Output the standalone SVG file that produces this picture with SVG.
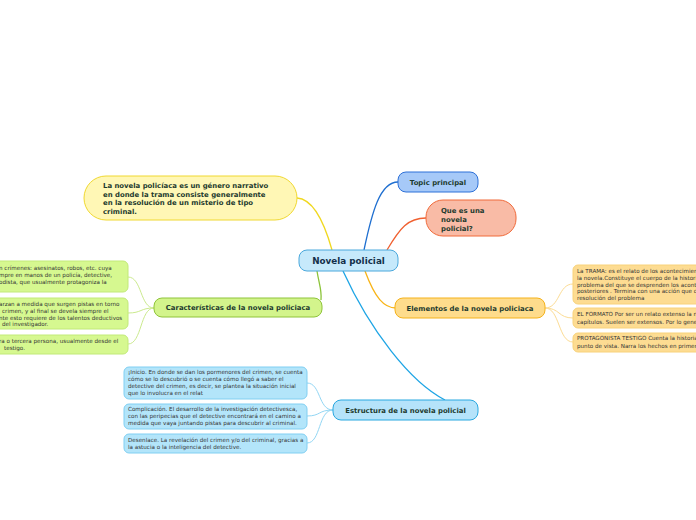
<svg xmlns="http://www.w3.org/2000/svg" width="696" height="520" viewBox="0 0 696 520">
<style>
text{font-family:"DejaVu Sans","Verdana",sans-serif;fill:#1d3a2e}
.m{font-weight:bold;font-size:6.9px}
.c{font-size:5.6px;fill:#333}
.cen{font-weight:bold;font-size:8.8px;fill:#14304a}
.conn path{fill:none}
</style>
<rect width="696" height="520" fill="#ffffff"/>
<g class="conn">
<path d="M364,250 C372,212 380,182 398,182" stroke="#1f6fd0" stroke-width="1.3"/>
<path d="M387,250 C400,228 408,218 426,218" stroke="#f06030" stroke-width="1.3"/>
<path d="M332,250 C325,225 314,199 297,198" stroke="#f0d820" stroke-width="1.3"/>
<path d="M317,271 C319,284 322,290 321,300" stroke="#8cc43a" stroke-width="1.3"/>
<path d="M365,271 C375,298 384,308 396,308" stroke="#f8b418" stroke-width="1.3"/>
<path d="M343,271 C370,330 410,382 445,400" stroke="#1ea5e5" stroke-width="1.3"/>
<g stroke="#fcdc94" stroke-width="1">
<path d="M545,308 C560,308 558,284 573,284"/>
<path d="M545,308 C560,308 558,318 573,318"/>
<path d="M545,308 C560,308 558,342 573,342"/>
</g>
<g stroke="#cbea8e" stroke-width="1">
<path d="M154,308 C140,308 142,277 128,277"/>
<path d="M154,308 C140,308 142,313 128,313"/>
<path d="M154,308 C140,308 142,344 128,344"/>
</g>
<g stroke="#92d6f4" stroke-width="1">
<path d="M333,410 C318,410 321,383 307,383"/>
<path d="M333,410 C318,410 321,416 307,416"/>
<path d="M333,410 C318,410 321,443 307,443"/>
</g>
</g>
<g id="central">
<rect x="299" y="250" width="99" height="21" rx="8" fill="#c6e9fb" stroke="#4aa8dc" stroke-width="1"/>
<text class="cen" x="348.5" y="264" text-anchor="middle">Novela policial</text>
</g>
<g id="topic">
<rect x="398" y="172" width="80" height="20" rx="8" fill="#a6c9f8" stroke="#2d70d8" stroke-width="1"/>
<text class="m" x="438" y="185" text-anchor="middle">Topic principal</text>
</g>
<g id="quees">
<rect x="426" y="200" width="90" height="36" rx="17" fill="#f9bba6" stroke="#f06a3a" stroke-width="1"/>
<text class="m" x="441" y="213">Que es una</text>
<text class="m" x="441" y="222">novela</text>
<text class="m" x="441" y="231">policial?</text>
</g>
<g id="definicion">
<rect x="84" y="176" width="213" height="44" rx="22" fill="#fff7b5" stroke="#f0d830" stroke-width="1"/>
<text class="m" x="103" y="188">La novela policíaca es un género narrativo</text>
<text class="m" x="103" y="197">en donde la trama consiste generalmente</text>
<text class="m" x="103" y="205">en la resolución de un misterio de tipo</text>
<text class="m" x="103" y="214">criminal.</text>
</g>
<g id="caracteristicas">
<rect x="154" y="298" width="168" height="19" rx="8" fill="#d3f48c" stroke="#8fc43a" stroke-width="1"/>
<text class="m" x="238" y="310" text-anchor="middle">Características de la novela policiaca</text>
</g>
<g id="car1">
<rect x="-10" y="261" width="138" height="31" rx="5" fill="#d6f890" stroke="#c2ea78" stroke-width="1"/>
<text class="c" x="-1" y="270">n crímenes: asesinatos, robos, etc. cuya</text>
<text class="c" x="-1" y="277">mpre en manos de un policía, detective,</text>
<text class="c" x="-1" y="284">odista, que usualmente protagoniza la</text>
</g>
<g id="car2">
<rect x="-10" y="298" width="138" height="31" rx="5" fill="#d6f890" stroke="#c2ea78" stroke-width="1"/>
<text class="c" x="-1" y="306">arzan a medida que surgen pistas en torno</text>
<text class="c" x="2" y="313">crimen, y al final se devela siempre el</text>
<text class="c" x="-1" y="320">nte esto requiere de los talentos deductivos</text>
<text class="c" x="2" y="326">del investigador.</text>
</g>
<g id="car3">
<rect x="-10" y="335" width="138" height="19" rx="5" fill="#d6f890" stroke="#c2ea78" stroke-width="1"/>
<text class="c" x="-1" y="343">ra o tercera persona, usualmente desde el</text>
<text class="c" x="4" y="350">testigo.</text>
</g>
<g id="elementos">
<rect x="395" y="298" width="150" height="20" rx="8" fill="#fedc8c" stroke="#f5b21a" stroke-width="1"/>
<text class="m" x="470" y="311" text-anchor="middle">Elementos de la novela policiaca</text>
</g>
<g id="el1">
<rect x="573" y="265" width="135" height="39" rx="5" fill="#fddc92" stroke="#f8d27a" stroke-width="1"/>
<text class="c" x="577" y="273">La TRAMA: es el relato de los acontecimien</text>
<text class="c" x="577" y="280">la novela.Constituye el cuerpo de la historia</text>
<text class="c" x="577" y="287">problema del que se desprenden los aconte</text>
<text class="c" x="577" y="293">posteriores . Termina con una acción que c</text>
<text class="c" x="577" y="300">resolución del problema</text>
</g>
<g id="el2">
<rect x="573" y="308" width="135" height="20" rx="5" fill="#fddc92" stroke="#f8d27a" stroke-width="1"/>
<text class="c" x="577" y="316">EL FORMATO Por ser un relato extenso la n</text>
<text class="c" x="577" y="324">capítulos. Suelen ser extensos. Por lo gene</text>
</g>
<g id="el3">
<rect x="573" y="333" width="135" height="19" rx="5" fill="#fddc92" stroke="#f8d27a" stroke-width="1"/>
<text class="c" x="577" y="340">PROTAGONISTA TESTIGO Cuenta la historia</text>
<text class="c" x="577" y="348">punto de vista. Narra los hechos en primer</text>
</g>
<g id="estructura">
<rect x="333" y="400" width="145" height="20" rx="8" fill="#b5e3fa" stroke="#29a8e0" stroke-width="1"/>
<text class="m" x="405.5" y="413" text-anchor="middle">Estructura de la novela policial</text>
</g>
<g id="es1">
<rect x="124" y="367" width="183" height="32" rx="5" fill="#b3e5fa" stroke="#80cff2" stroke-width="1"/>
<text class="c" x="128" y="374">¡Inicio. En donde se dan los pormenores del crimen, se cuenta</text>
<text class="c" x="128" y="381">cómo se lo descubrió o se cuenta cómo llegó a saber el</text>
<text class="c" x="128" y="388">detective del crimen, es decir, se plantea la situación inicial</text>
<text class="c" x="128" y="395">que lo involucra en el relat</text>
</g>
<g id="es2">
<rect x="124" y="404" width="183" height="25" rx="5" fill="#b3e5fa" stroke="#80cff2" stroke-width="1"/>
<text class="c" x="128" y="411">Complicación. El desarrollo de la investigación detectivesca,</text>
<text class="c" x="128" y="418">con las peripecias que el detective encontrará en el camino a</text>
<text class="c" x="128" y="425">medida que vaya juntando pistas para descubrir al criminal.</text>
</g>
<g id="es3">
<rect x="124" y="434" width="183" height="19" rx="5" fill="#b3e5fa" stroke="#80cff2" stroke-width="1"/>
<text class="c" x="128" y="442">Desenlace. La revelación del crimen y/o del criminal, gracias a</text>
<text class="c" x="128" y="449">la astucia o la inteligencia del detective.</text>
</g>
</svg>
